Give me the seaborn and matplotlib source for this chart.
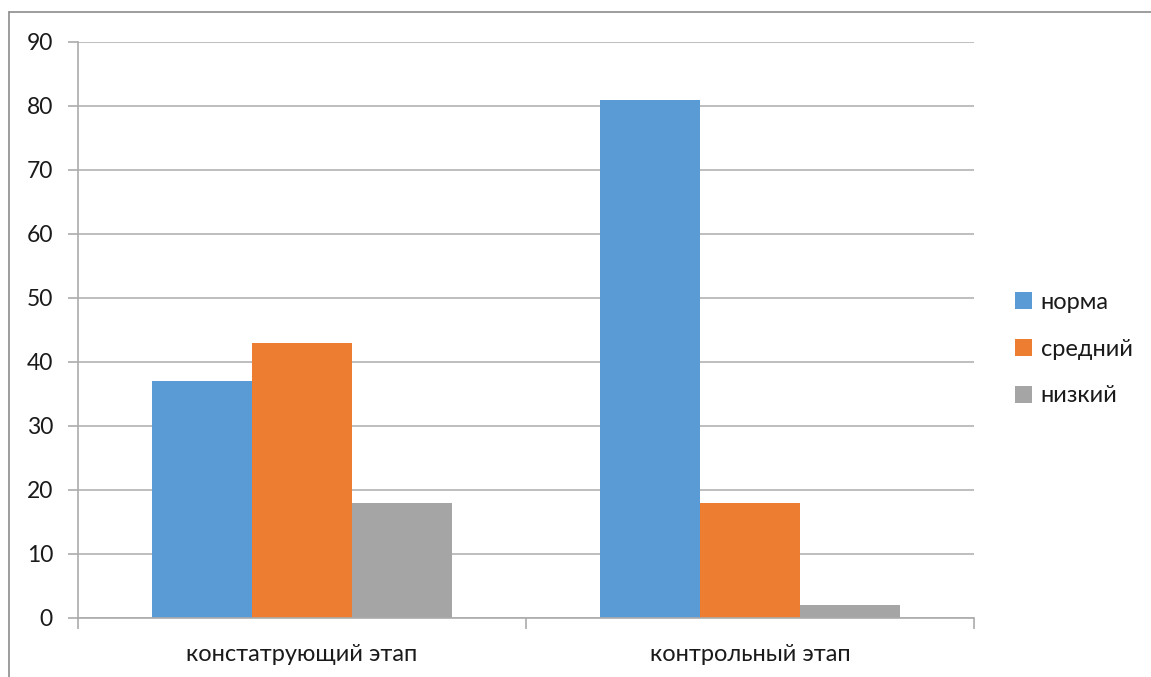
import matplotlib
matplotlib.use("Agg")
import matplotlib.pyplot as plt
from matplotlib.lines import Line2D
from matplotlib.patches import Patch
import seaborn as sns
import pandas as pd

categories = ["констатрующий этап", "контрольный этап"]
series = ["норма", "средний", "низкий"]
norma = [37, 81]
sredniy = [43, 18]
nizkiy = [18, 2]
colors = ["#5B9BD5", "#ED7D31", "#A5A5A5"]
yticks = [0, 10, 20, 30, 40, 50, 60, 70, 80, 90]

rows = []
for s, vals in zip(series, [norma, sredniy, nizkiy]):
    for c, v in zip(categories, vals):
        rows.append({"cat": c, "series": s, "value": v})
df = pd.DataFrame(rows)

sns.set_theme(style="white")
plt.rcParams["font.family"] = ["Lato", "DejaVu Sans"]

W, H = 1151, 677
fig = plt.figure(figsize=(W / 100, H / 100), dpi=100)
ax = fig.add_axes([78 / W, 1 - 618 / H, (974 - 78) / W, (618 - 42) / H])

sns.barplot(data=df, x="cat", y="value", hue="series", order=categories,
            hue_order=series, palette=colors, width=300 / 448, gap=0,
            saturation=1, ax=ax, legend=False, edgecolor="none", linewidth=0)

ax.set_xlim(-0.5, 1.5)
ax.set_ylim(0, 90)
ax.set_yticks(yticks)
ax.set_yticklabels([str(t) for t in yticks], fontsize=16.5, color="#1a1a1a")
ax.set_xlabel("")
ax.set_ylabel("")
ax.yaxis.grid(True, color="#B3B3B3", linewidth=1.2)
ax.set_axisbelow(True)
for sp in ["top", "right"]:
    ax.spines[sp].set_visible(False)
for sp in ["left", "bottom"]:
    ax.spines[sp].set_color("#ABABAB")
    ax.spines[sp].set_linewidth(1.2)
ax.tick_params(axis="y", length=7, color="#ABABAB", width=1.2, pad=11, left=True)
ax.tick_params(axis="x", length=0, pad=19)
ax.set_xticks([0, 1])
ax.set_xticklabels(categories, fontsize=17, color="#1a1a1a")
# minor ticks at category boundaries
ax.set_xticks([-0.5, 0.5, 1.5], minor=True)
ax.tick_params(axis="x", which="minor", length=8, color="#ABABAB", width=1.2, bottom=True)

handles = [Patch(facecolor=c, edgecolor="none", label=s) for s, c in zip(series, colors)]
fig.legend(handles=handles, loc="center left", bbox_to_anchor=(994 / W, 1 - 349 / H),
           frameon=False, fontsize=17, handlelength=0.72, handleheight=0.72,
           handletextpad=0.35, labelspacing=1.1, labelcolor="#1a1a1a")

# outer chart border (partially cropped)
fig.add_artist(Line2D([9 / W, 9 / W], [0, 1 - 12 / H], transform=fig.transFigure,
                      color="#8C8C8C", linewidth=1.2))
fig.add_artist(Line2D([9 / W, 1], [1 - 12 / H, 1 - 12 / H], transform=fig.transFigure,
                      color="#8C8C8C", linewidth=1.2))

fig.savefig("out.png", dpi=100, facecolor="white")
